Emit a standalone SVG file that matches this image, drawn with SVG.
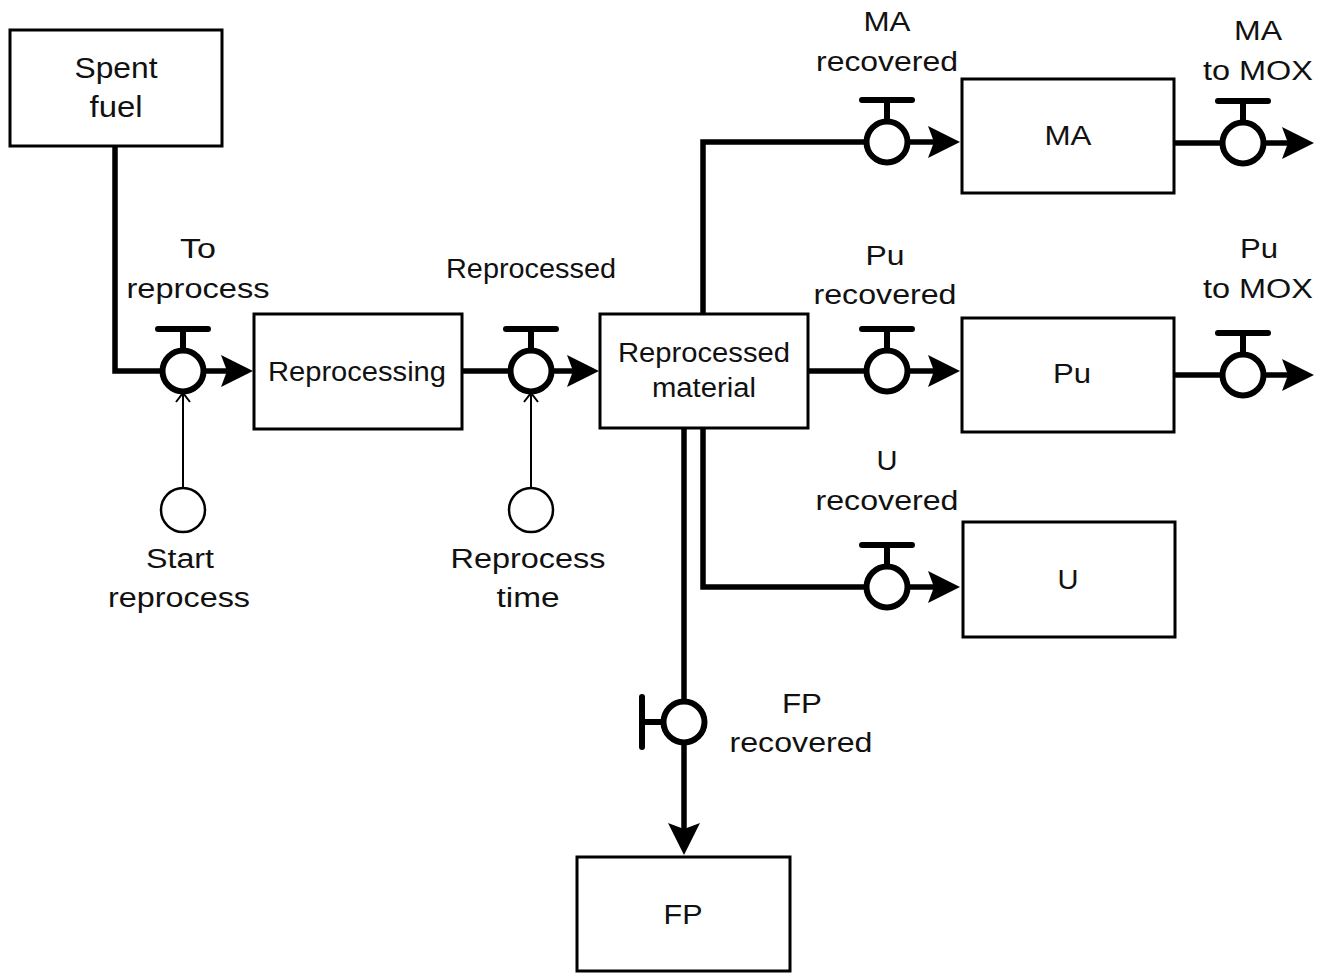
<svg xmlns="http://www.w3.org/2000/svg" xmlns:xlink="http://www.w3.org/1999/xlink" width="1332" height="974" viewBox="0 0 1332 974">
<style>
.box{fill:#fff;stroke:#000;stroke-width:3}
.flow{fill:none;stroke:#000;stroke-width:5.5;stroke-linejoin:miter}
.thin{fill:none;stroke:#000;stroke-width:2}
.aux{fill:#fff;stroke:#000;stroke-width:2.5}
text{font-family:"Liberation Sans",Arial,sans-serif;font-size:27px;fill:#111;text-anchor:middle}
.big{font-size:30px}
</style>
<defs>
<marker id="ah" markerUnits="userSpaceOnUse" markerWidth="36" markerHeight="36" viewBox="-34 -18 36 36" refX="-12" refY="0" orient="auto">
<path d="M0,0 L-32,-16 L-26,0 L-32,16 Z" fill="#000"/>
</marker>
<marker id="chev" markerUnits="userSpaceOnUse" markerWidth="20" markerHeight="20" viewBox="-12 -10 14 20" refX="0" refY="0" orient="auto">
<path d="M-9,-7 L0,0 L-9,7" fill="none" stroke="#000" stroke-width="2"/>
</marker>
<g id="valve">
<line x1="-25" y1="-42" x2="25" y2="-42" stroke="#000" stroke-width="6" stroke-linecap="round"/>
<line x1="0" y1="-42" x2="0" y2="-20" stroke="#000" stroke-width="6"/>
<circle cx="0" cy="0" r="20.5" fill="#fff" stroke="#000" stroke-width="6"/>
</g>
</defs>

<g id="connectors">
<path class="flow" d="M115,146 V371 H165"/>
<path class="flow" d="M203,371 H241" marker-end="url(#ah)"/>
<path class="flow" d="M462,371 H512"/>
<path class="flow" d="M550,371 H587" marker-end="url(#ah)"/>
<path class="flow" d="M703,314 V142 H868"/>
<path class="flow" d="M906,142 H948" marker-end="url(#ah)"/>
<path class="flow" d="M1174,143 H1224"/>
<path class="flow" d="M1262,143 H1302" marker-end="url(#ah)"/>
<path class="flow" d="M808,371 H868"/>
<path class="flow" d="M906,371 H948" marker-end="url(#ah)"/>
<path class="flow" d="M1174,375 H1224"/>
<path class="flow" d="M1262,375 H1302" marker-end="url(#ah)"/>
<path class="flow" d="M703,428 V587 H868"/>
<path class="flow" d="M906,587 H948" marker-end="url(#ah)"/>
<path class="flow" d="M684,428 V703"/>
<path class="flow" d="M684,741 V843" marker-end="url(#ah)"/>
<path class="thin" d="M183,488 V393" marker-end="url(#chev)"/>
<path class="thin" d="M531,488 V393" marker-end="url(#chev)"/>
</g>

<g id="valve-to-reprocess"><use xlink:href="#valve" href="#valve" transform="translate(183,371)"/>
<text x="198" y="258" textLength="36" lengthAdjust="spacingAndGlyphs">To</text>
<text x="198" y="298" textLength="143" lengthAdjust="spacingAndGlyphs">reprocess</text></g>
<g id="valve-reprocessed"><use xlink:href="#valve" href="#valve" transform="translate(531,371)"/>
<text x="531" y="278" textLength="170" lengthAdjust="spacingAndGlyphs">Reprocessed</text></g>
<g id="valve-ma-recovered"><use xlink:href="#valve" href="#valve" transform="translate(887,142)"/>
<text x="887" y="31" textLength="47" lengthAdjust="spacingAndGlyphs">MA</text>
<text x="887" y="71" textLength="142" lengthAdjust="spacingAndGlyphs">recovered</text></g>
<g id="valve-ma-mox"><use xlink:href="#valve" href="#valve" transform="translate(1243,143)"/>
<text x="1258" y="40" textLength="48" lengthAdjust="spacingAndGlyphs">MA</text>
<text x="1258" y="80" textLength="110" lengthAdjust="spacingAndGlyphs">to MOX</text></g>
<g id="valve-pu-recovered"><use xlink:href="#valve" href="#valve" transform="translate(887,371)"/>
<text x="885" y="265" textLength="39" lengthAdjust="spacingAndGlyphs">Pu</text>
<text x="885" y="304" textLength="143" lengthAdjust="spacingAndGlyphs">recovered</text></g>
<g id="valve-pu-mox"><use xlink:href="#valve" href="#valve" transform="translate(1243,375)"/>
<text x="1259" y="258" textLength="38" lengthAdjust="spacingAndGlyphs">Pu</text>
<text x="1258" y="298" textLength="110" lengthAdjust="spacingAndGlyphs">to MOX</text></g>
<g id="valve-u-recovered"><use xlink:href="#valve" href="#valve" transform="translate(887,587)"/>
<text x="887" y="470" textLength="21" lengthAdjust="spacingAndGlyphs">U</text>
<text x="887" y="510" textLength="143" lengthAdjust="spacingAndGlyphs">recovered</text></g>
<g id="valve-fp-recovered"><use xlink:href="#valve" href="#valve" transform="translate(684,722) rotate(-90)"/>
<text x="802" y="713" textLength="40" lengthAdjust="spacingAndGlyphs">FP</text>
<text x="801" y="752" textLength="143" lengthAdjust="spacingAndGlyphs">recovered</text></g>

<g id="start-reprocess"><circle class="aux" cx="183" cy="510" r="22"/>
<text x="180" y="568" textLength="68" lengthAdjust="spacingAndGlyphs">Start</text>
<text x="179" y="607" textLength="142" lengthAdjust="spacingAndGlyphs">reprocess</text></g>
<g id="reprocess-time"><circle class="aux" cx="531" cy="510" r="22"/>
<text x="528" y="568" textLength="155" lengthAdjust="spacingAndGlyphs">Reprocess</text>
<text x="528" y="607" textLength="63" lengthAdjust="spacingAndGlyphs">time</text></g>

<g id="spent-fuel"><rect class="box" x="10" y="30" width="212" height="116"/>
<text class="big" x="116" y="78" textLength="83" lengthAdjust="spacingAndGlyphs">Spent</text>
<text class="big" x="116" y="117" textLength="53" lengthAdjust="spacingAndGlyphs">fuel</text></g>
<g id="reprocessing"><rect class="box" x="254" y="314" width="208" height="115"/>
<text x="357" y="381" textLength="178" lengthAdjust="spacingAndGlyphs">Reprocessing</text></g>
<g id="reprocessed-material"><rect class="box" x="600" y="314" width="208" height="114"/>
<text x="704" y="362" textLength="172" lengthAdjust="spacingAndGlyphs">Reprocessed</text>
<text x="704" y="397" textLength="104" lengthAdjust="spacingAndGlyphs">material</text></g>
<g id="ma"><rect class="box" x="962" y="79" width="212" height="114"/>
<text x="1068" y="145" textLength="47" lengthAdjust="spacingAndGlyphs">MA</text></g>
<g id="pu"><rect class="box" x="962" y="318" width="212" height="114"/>
<text x="1072" y="383" textLength="38" lengthAdjust="spacingAndGlyphs">Pu</text></g>
<g id="u"><rect class="box" x="963" y="522" width="212" height="115"/>
<text x="1068" y="589" textLength="21" lengthAdjust="spacingAndGlyphs">U</text></g>
<g id="fp"><rect class="box" x="577" y="857" width="213" height="114"/>
<text x="683" y="924" textLength="39" lengthAdjust="spacingAndGlyphs">FP</text></g>
</svg>
